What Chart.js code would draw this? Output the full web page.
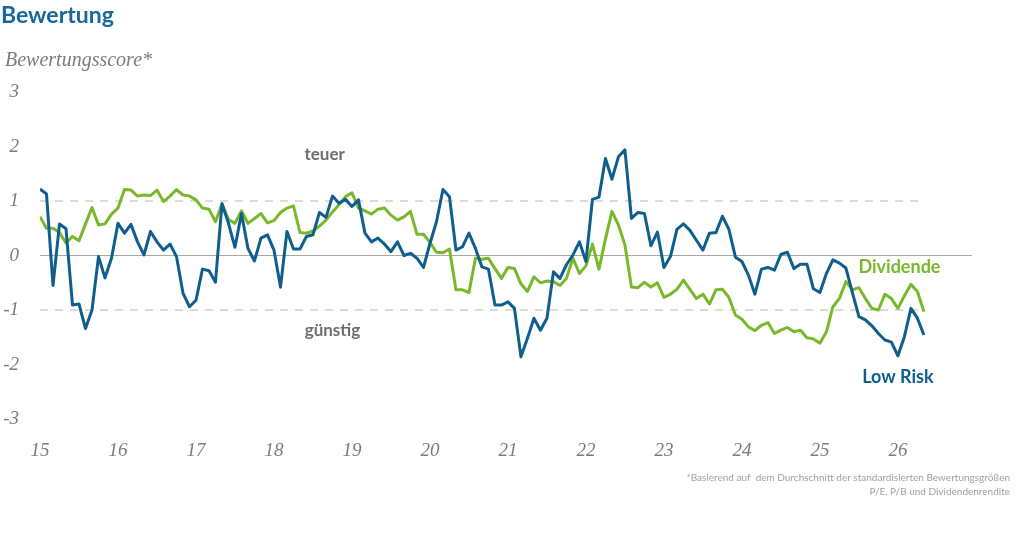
<!DOCTYPE html>
<html lang="de">
<head>
<meta charset="utf-8">
<title>Bewertung</title>
<script src="https://cdn.jsdelivr.net/npm/chart.js@4.4.1/dist/chart.umd.min.js"></script>
<style>
  html, body { margin: 0; padding: 0; background: #fff; }
  #wrap { width: 1024px; height: 533px; position: relative; }
</style>
</head>
<body>
<div id="wrap"><canvas id="chart" width="1024" height="533"></canvas></div>
<script>
// Monatswerte ab Januar 2015 (Bewertungsscore)
const startYear = 15;
const lowRisk = [
  1.22, 1.13, -0.55, 0.58, 0.49, -0.91, -0.89, -1.34, -1.00, -0.02, -0.41, -0.05,
  0.59, 0.41, 0.57, 0.25, 0.01, 0.44, 0.25, 0.10, 0.21, -0.02, -0.69, -0.94,
  -0.82, -0.25, -0.28, -0.49, 0.95, 0.59, 0.15, 0.77, 0.13, -0.10, 0.32, 0.38,
  0.10, -0.58, 0.44, 0.12, 0.12, 0.35, 0.38, 0.79, 0.70, 1.09, 0.96, 1.03,
  0.90, 1.02, 0.41, 0.25, 0.32, 0.21, 0.07, 0.25, 0.00, 0.04, -0.05, -0.22,
  0.22, 0.62, 1.21, 1.08, 0.10, 0.16, 0.41, 0.13, -0.21, -0.25, -0.91, -0.91,
  -0.85, -0.97, -1.86, -1.52, -1.15, -1.37, -1.15, -0.30, -0.42, -0.17, 0.01, 0.25,
  -0.11, 1.03, 1.07, 1.78, 1.40, 1.81, 1.94, 0.68, 0.79, 0.77, 0.18, 0.43,
  -0.22, -0.02, 0.48, 0.58, 0.46, 0.28, 0.10, 0.41, 0.42, 0.72, 0.48, -0.03,
  -0.11, -0.36, -0.71, -0.25, -0.22, -0.27, 0.02, 0.06, -0.24, -0.16, -0.16, -0.61,
  -0.68, -0.33, -0.08, -0.14, -0.23, -0.68, -1.12, -1.18, -1.29, -1.43, -1.55, -1.59,
  -1.84, -1.49, -0.97, -1.15, -1.46
];
const dividende = [
  0.71, 0.50, 0.50, 0.42, 0.23, 0.35, 0.27, 0.58, 0.88, 0.56, 0.58, 0.76,
  0.87, 1.21, 1.20, 1.09, 1.11, 1.10, 1.20, 0.99, 1.09, 1.21, 1.11, 1.09,
  1.02, 0.87, 0.85, 0.62, 0.95, 0.66, 0.59, 0.82, 0.59, 0.68, 0.77, 0.60,
  0.64, 0.79, 0.87, 0.91, 0.42, 0.41, 0.45, 0.54, 0.65, 0.80, 0.93, 1.08,
  1.15, 0.87, 0.82, 0.76, 0.85, 0.87, 0.74, 0.65, 0.71, 0.81, 0.39, 0.39,
  0.24, 0.06, 0.05, 0.12, -0.63, -0.63, -0.68, -0.05, -0.07, -0.05, -0.24, -0.42,
  -0.22, -0.24, -0.52, -0.66, -0.39, -0.50, -0.47, -0.48, -0.55, -0.42, -0.05, -0.33,
  -0.19, 0.21, -0.25, 0.30, 0.81, 0.56, 0.19, -0.58, -0.59, -0.49, -0.58, -0.50,
  -0.77, -0.71, -0.62, -0.45, -0.62, -0.79, -0.71, -0.89, -0.63, -0.62, -0.77, -1.09,
  -1.17, -1.31, -1.38, -1.28, -1.23, -1.43, -1.37, -1.32, -1.40, -1.37, -1.51, -1.53,
  -1.61, -1.40, -0.94, -0.79, -0.48, -0.63, -0.59, -0.79, -0.97, -1.00, -0.71, -0.79,
  -0.97, -0.74, -0.53, -0.66, -1.03
];
const yearTicks = [15, 16, 17, 18, 19, 20, 21, 22, 23, 24, 25, 26];
const bands = [1, -1]; // teuer / günstig Schwellen

const blue = '#0f5e8e';
const green = '#78b82a';
const grey = '#7b7b7b';

function toPoints(values) {
  return values.map((v, i) => ({ x: startYear + i / 12, y: v }));
}
const lastX = startYear + (lowRisk.length - 1) / 12;

/* ---------- Beschriftungen ---------- */
const textPlugin = {
  id: 'texts',
  afterDraw(chart) {
    const ctx = chart.ctx;
    const x = chart.scales.x, y = chart.scales.y;
    ctx.save();
    ctx.textBaseline = 'alphabetic';
    ctx.textAlign = 'left';
    ctx.fillStyle = '#17689c';
    ctx.font = 'bold 23px Lato';
    ctx.fillText('Bewertung', 1, 23);
    ctx.fillStyle = grey;
    ctx.font = 'italic 20px "Liberation Serif"';
    ctx.fillText('Bewertungsscore*', 5, 66);

    ctx.textAlign = 'center';
    ctx.textBaseline = 'middle';
    ctx.font = 'bold 17px Lato';
    ctx.fillStyle = '#6e6e6e';
    ctx.fillText('teuer', x.getPixelForValue(18.65), y.getPixelForValue(1.85));
    ctx.fillText('günstig', x.getPixelForValue(18.75), y.getPixelForValue(-1.38));

    ctx.font = 'bold 18px Lato';
    ctx.fillStyle = green;
    ctx.fillText('Dividende', x.getPixelForValue(26.02), y.getPixelForValue(-0.22));
    ctx.fillStyle = blue;
    ctx.fillText('Low Risk', x.getPixelForValue(26.0), y.getPixelForValue(-2.23));

    ctx.textAlign = 'right';
    ctx.font = '10px Lato';
    ctx.fillStyle = '#a0a0a0';
    ctx.fillText('*Basierend auf  dem Durchschnitt der standardisierten Bewertungsgrößen', 1010, 478);
    ctx.fillText('P/E, P/B und Dividendenrendite', 1010, 492);
    ctx.restore();
  }
};

new Chart(document.getElementById('chart'), {
  type: 'line',
  data: {
    datasets: [
      { label: 'Low Risk', data: toPoints(lowRisk), borderColor: blue, borderWidth: 3 },
      { label: 'Dividende', data: toPoints(dividende), borderColor: green, borderWidth: 3 },
      ...bands.map(b => ({
        label: 'band' + b,
        data: [{ x: startYear, y: b }, { x: lastX, y: b }],
        borderColor: '#cfcfcf', borderWidth: 1.5, borderDash: [8, 7]
      }))
    ]
  },
  options: {
    responsive: false,
    animation: false,
    devicePixelRatio: 1,
    elements: { point: { radius: 0 }, line: { tension: 0, borderJoinStyle: 'round', fill: false } },
    layout: { padding: { left: 0, right: 52, top: 92, bottom: 0 } },
    plugins: { legend: { display: false }, tooltip: { enabled: false } },
    scales: {
      x: {
        type: 'linear', min: 15, max: 26.95,
        afterFit(scale) { scale.height = 114; },
        afterBuildTicks(scale) { scale.ticks = yearTicks.map(v => ({ value: v })); },
        grid: { display: false, drawTicks: false },
        border: { display: false },
        ticks: {
          padding: 21, color: grey,
          font: { family: '"Liberation Serif"', style: 'italic', size: 19 },
          callback: v => String(v)
        }
      },
      y: {
        min: -3, max: 3,
        afterFit(scale) { scale.width = 40; },
        grid: {
          drawTicks: false,
          color: c => c.tick.value === 0 ? '#a8a8a8' : 'rgba(0,0,0,0)',
          lineWidth: 1
        },
        border: { display: false },
        ticks: {
          stepSize: 1, padding: 21, color: grey,
          font: { family: '"Liberation Serif"', style: 'italic', size: 19 }
        }
      }
    }
  },
  plugins: [textPlugin]
});
</script>
</body>
</html>
